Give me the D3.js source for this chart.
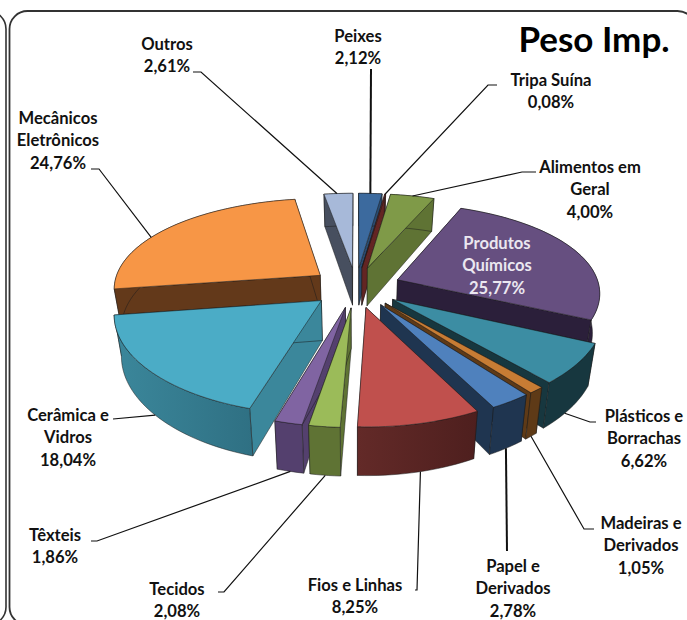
<!DOCTYPE html>
<html><head><meta charset="utf-8">
<script src="https://cdn.jsdelivr.net/npm/d3@7/dist/d3.min.js"></script>
<style>html,body{margin:0;padding:0;background:#fff;overflow:hidden}text{font-family:Lato,"Open Sans",sans-serif;font-weight:700}</style>
</head><body><div id="c"></div>
<script>
const categories=["Peixes","Tripa Suína","Alimentos em Geral","Produtos Químicos","Plásticos e Borrachas","Madeiras e Derivados","Papel e Derivados","Fios e Linhas","Tecidos","Têxteis","Cerâmica e Vidros","Mecânicos Eletrônicos","Outros"];
const values=[2.12,0.08,4.00,25.77,6.62,1.05,2.78,8.25,2.08,1.86,18.04,24.76,2.61];
const valueLabels=["2,12%","0,08%","4,00%","25,77%","6,62%","1,05%","2,78%","8,25%","2,08%","1,86%","18,04%","24,76%","2,61%"];
const topColors=["#3c6a9e","#953735","#7f9a48","#664f80","#3c8da3","#c77c34","#4f81bd","#c0504d","#9bbb59","#8064a2","#4bacc6","#f79646","#a7b9d9"];
const sideColors=["#2a4a6e","#632523","#5f7334","#2b1f3a","#17373f","#5e3a17","#1f3550","#632a28","#5f7334","#54406e","#3b879b","#63391a","#474f5f"];
const wallEndColors=["#2a4a6e","#632523","#5f7334","#2b1f3a","#17373f","#5e3a17","#1f3550","#4e1f1e","#5f7334","#54406e","#2f7083","#63391a","#474f5f"];
const labelLines=[["Peixes"],["Tripa Suína"],["Alimentos em","Geral"],["Produtos","Químicos"],["Plásticos e","Borrachas"],["Madeiras e","Derivados"],["Papel e","Derivados"],["Fios e Linhas"],["Tecidos"],["Têxteis"],["Cerâmica e","Vidros"],["Mecânicos","Eletrônicos"],["Outros"]];
// label layout: centre x, first-line centre y
const labelPos=[[358,36],[551,80],[590,167],[497,243],[644,416],[641,523],[513,566],[355,585],[177,589],[55,535],[68,415],[58,118],[167,44]];
// per-slice radius trim (layout only)
const radiusTrim=[1,1,1,.985,1,1,1,1,1,1,.98,1.01,1];
// leader: elbow points at the label end, then rim fraction and height fraction of the slice
const leaders=[
 {pts:[[371,69]],t:.5,z:0,w:2},
 {pts:[[497,85],[488,85]],t:.5,z:0,w:1.2},
 {pts:[[536,172],[522,172]],t:.5,z:0,w:1.2},
 null,
 {pts:[[596,422],[590,422]],t:.62,z:1,w:1.2},
 {pts:[[594,529],[584,529]],t:.5,z:1,w:1.2},
 {pts:[[507,551]],t:.5,z:1,w:2},
 {pts:[[415,590],[417,590]],t:.48,z:1,w:1.2},
 {pts:[[218,592],[224,592]],t:.5,z:1,w:1.2},
 {pts:[[91,541],[97,541]],t:.5,z:1,w:1.2},
 {pts:[[113,419]],t:.5,z:1,w:1.2},
 {pts:[[91,169],[99,169]],t:.4,z:0,w:1.2},
 {pts:[[193,72],[201,72]],t:.45,z:0,w:1.2}
];
const W=687,H=620,cx=356,cy=287,R=205,EX=45,TILT=.45,DEPTH=39,PERSPY=.2,PERSPX=.16,CONV=.03;
const svg=d3.select("#c").append("svg").attr("width",W).attr("height",H).style("display","block");
const defs=svg.append("defs");
svg.append("rect").attr("x",-680).attr("y",11).attr("width",686).attr("height",614).attr("rx",18).attr("fill","none").attr("stroke","#333").attr("stroke-width",1.6);
svg.append("rect").attr("x",9.5).attr("y",11).attr("width",686).attr("height",614).attr("rx",18).attr("fill","#fff").attr("stroke","#333").attr("stroke-width",1.8);

const arcs=d3.pie().sort(null).startAngle(0).endAngle(2*Math.PI).value(d=>d)(values);
function P(slice,a,r,z){
  const m=(slice.startAngle+slice.endAngle)/2;
  const rr=r*radiusTrim[slice.index];
  const X=rr*Math.sin(a)+EX*Math.sin(m), Y=rr*Math.cos(a)+EX*Math.cos(m);
  const sy=1/(1+PERSPY*Y/(R+EX)), sx=1/(1+PERSPX*Y/(R+EX));
  return [cx+sx*X*(1-CONV*z), cy-sy*Y*TILT+sy*z*DEPTH];
}
const line=d3.line().curve(d3.curveLinearClosed);
function samples(d){const n=Math.max(2,Math.ceil((d.endAngle-d.startAngle)/.03));return d3.range(n+1).map(i=>d.startAngle+(d.endAngle-d.startAngle)*i/n);}
const order=arcs.slice().sort((p,q)=>Math.cos((q.startAngle+q.endAngle)/2)-Math.cos((p.startAngle+p.endAngle)/2));
const strokeC="#1a1a1a",sw=.5;
order.forEach(d=>{
  const i=d.index,g=svg.append("g"),as=samples(d);
  const grad=defs.append("linearGradient").attr("id","w"+i);
  grad.append("stop").attr("offset",0).attr("stop-color",sideColors[i]);
  grad.append("stop").attr("offset",1).attr("stop-color",wallEndColors[i]);
  [d.startAngle,d.endAngle].forEach(a=>{
    g.append("path").attr("d",line([P(d,a,0,0),P(d,a,R,0),P(d,a,R,1),P(d,a,0,1)]))
     .attr("fill",sideColors[i]).attr("stroke",strokeC).attr("stroke-width",sw);
  });
  g.append("path").attr("d",line(as.map(a=>P(d,a,R,0)).concat(as.slice().reverse().map(a=>P(d,a,R,1)))))
   .attr("fill",`url(#w${i})`).attr("stroke",strokeC).attr("stroke-width",sw);
  g.append("path").attr("d",line([P(d,0,0,0)].concat(as.map(a=>P(d,a,R,0)))))
   .attr("fill",topColors[i]).attr("stroke",strokeC).attr("stroke-width",sw);
});
leaders.forEach((l,i)=>{
  if(!l)return;
  const d=arcs[i],a=d.startAngle+(d.endAngle-d.startAngle)*l.t;
  svg.append("path").attr("d",d3.line()(l.pts.concat([P(d,a,R,l.z)]))).attr("fill","none").attr("stroke","#111").attr("stroke-width",l.w);
});
const LH=22.6;
labelLines.forEach((ls,i)=>{
  const all=ls.concat([valueLabels[i]]);
  const t=svg.append("text").attr("text-anchor","middle").attr("font-size",16.6).attr("fill",i===3?"#ebe7f0":"#111");
  all.forEach((s,k)=>t.append("tspan").attr("x",labelPos[i][0]).attr("y",labelPos[i][1]+k*LH+5.5).text(s));
});
svg.append("text").attr("x",594).attr("y",52).attr("text-anchor","middle").attr("font-size",35).attr("fill","#000").text("Peso Imp.");
</script></body></html>
